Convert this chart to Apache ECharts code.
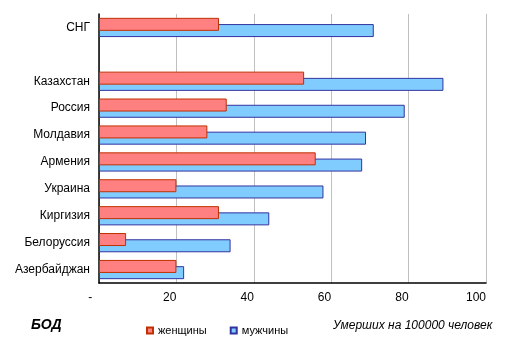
<!DOCTYPE html>
<html><head><meta charset="utf-8">
<script src="https://cdn.jsdelivr.net/npm/echarts@6/dist/echarts.min.js"></script>
<style>html,body{margin:0;padding:0;background:#fff}#c{width:518px;height:345px}</style>
</head><body><div id="c"></div>
<script>
const categories = ['Азербайджан','Белоруссия','Киргизия','Украина','Армения','Молдавия','Россия','Казахстан','','СНГ'];
const women = [20, 7, 31, 20, 56, 28, 33, 53, null, 31];
const men = [22, 34, 44, 58, 68, 69, 79, 89, null, 71];
const xTicks = [0, 20, 40, 60, 80, 100];
const seriesNames = ['женщины', 'мужчины'];

const chart = echarts.init(document.getElementById('c'), null, {renderer: 'canvas'});
const font = 'Liberation Sans, Arial, sans-serif';
chart.setOption({
  animation: false,
  textStyle: {fontFamily: font},
  grid: {left: 99, right: 32, top: 14, bottom: 62, containLabel: false},
  xAxis: {
    type: 'value', min: xTicks[0], max: xTicks[xTicks.length - 1], interval: 20,
    axisLine: {show: true, lineStyle: {color: '#000', width: 1.5}},
    axisTick: {show: false},
    splitLine: {show: true, lineStyle: {color: '#c0c0c0', width: 1}},
    axisLabel: {
      color: '#000', fontSize: 12, fontFamily: font, margin: 9, align: 'right',
      formatter: v => v === 0 ? '-  ' : String(v)
    }
  },
  yAxis: {
    type: 'category', data: categories,
    axisLine: {show: true, lineStyle: {color: '#000', width: 1.5}},
    axisTick: {show: false},
    axisLabel: {color: '#000', fontSize: 12, fontFamily: font, margin: 9}
  },
  legend: {
    data: seriesNames, left: 141, top: 320, icon: 'rect', itemWidth: 6, itemHeight: 6,
    itemGap: 23, textStyle: {fontSize: 11, color: '#000', fontFamily: font}
  },
  graphic: [
    {type: 'text', left: 31, top: 318, style: {text: 'БОД', font: 'italic bold 14px ' + font, fill: '#000'}},
    {type: 'text', left: 333, top: 320, style: {text: 'Умерших на 100000 человек', font: 'italic 12px ' + font, fill: '#000'}}
  ],
  series: [
    {name: seriesNames[0], type: 'bar', data: women, barWidth: 13, barGap: '-52%', z: 3,
     itemStyle: {color: '#ff8080', borderColor: '#c03000', borderWidth: 1}},
    {name: seriesNames[1], type: 'bar', data: men, barWidth: 13, z: 2,
     itemStyle: {color: '#80ccff', borderColor: '#3333a0', borderWidth: 1}}
  ]
});
</script></body></html>
